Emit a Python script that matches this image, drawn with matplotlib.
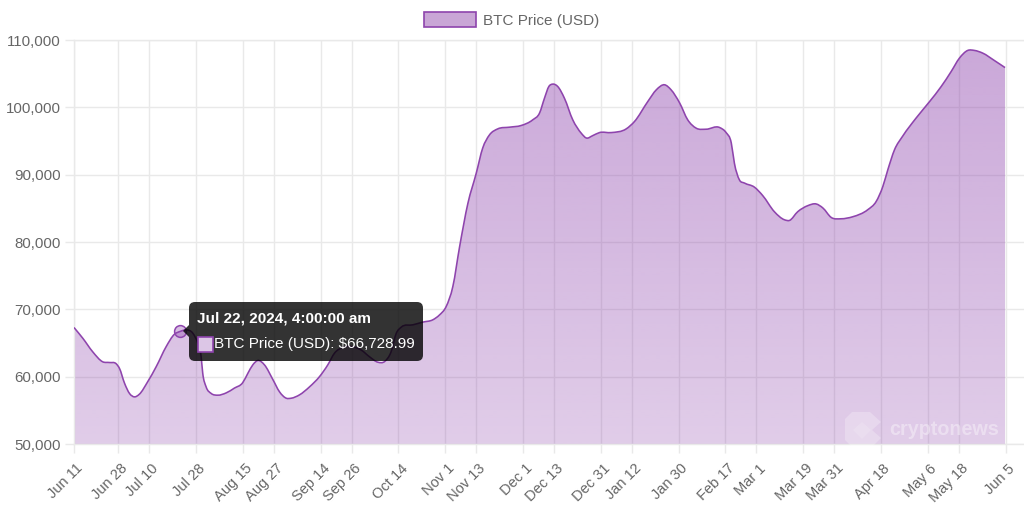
#!/usr/bin/env python3
"""
BTC price chart with tooltip, one year from Jun 2024
"""

import matplotlib
matplotlib.use("Agg")
import matplotlib.pyplot as plt
import matplotlib.dates as mdates
import numpy as np
import pandas as pd
from matplotlib.patches import FancyBboxPatch, Patch, PathPatch, Polygon, Rectangle
from matplotlib.path import Path
from matplotlib.ticker import FuncFormatter
from matplotlib.transforms import Affine2D, ScaledTranslation

# Values
start_date = "2024-06-11"
days = [0, 3.4, 7.2, 11.1, 13.7, 16.3, 17.5, 19.5, 21.4, 23.3, 25.2, 28.4, 31.7, 35.5, 38.7, 41,
        43.2, 45.8, 47.7, 49, 49.6, 50.9, 52.9, 55.4, 58.7, 61.8, 65, 67, 68.9, 70.8, 73.4, 76.6,
        79.2, 81.8, 83.7, 86.9, 90.8, 94.6, 97.8, 100.4, 103.6, 107.4, 110.7, 113.9, 117.1, 119.7,
        122.2, 124.2, 126.1, 130.6, 134.4, 138.3, 140.8, 143.4, 146, 148.6, 151.8, 155, 157.5,
        160.1, 163.3, 167.8, 172.3, 176.8, 179.4, 181.3, 183, 184.5, 186.4, 189, 192.2, 195.5,
        197.4, 199.9, 202.5, 207, 212.8, 216, 221.1, 224.4, 227.6, 230.1, 233.4, 236.5, 239.8,
        243.6, 248.8, 251.3, 253.3, 254.5, 256.4, 258.4, 262.2, 265.4, 269.9, 273.8, 275.7, 278.9,
        282.8, 286, 288.6, 291.8, 295.6, 300.1, 305.9, 309.1, 311.7, 313.6, 316.2, 319.4, 324.5,
        329.7, 334.2, 338, 341.2, 344.4, 347, 350.2, 354.7, 358.8]
prices = [67300, 65700, 63700, 62200, 62100, 61900, 61250, 59000, 57500, 57000, 57400, 59250, 61500,
          64450, 66300, 66729, 66950, 66450, 64950, 62950, 60550, 58500, 57500, 57250, 57600, 58300,
          59100, 60500, 61750, 62400, 61750, 59600, 57750, 56800, 56800, 57300, 58500, 60000, 61750,
          63500, 64350, 64450, 63950, 62950, 62150, 62250, 63700, 66450, 67350, 67700, 68100, 68450,
          69150, 70400, 73400, 79300, 85750, 90200, 93950, 95900, 96800, 97050, 97300, 98150, 99150,
          101350, 103100, 103450, 103100, 101350, 98150, 96150, 95450, 95800, 96250, 96250, 96800,
          97900, 100850, 102600, 103350, 102600, 100650, 98150, 96900, 96750, 97000, 96250, 94700,
          91700, 89250, 88750, 88150, 86900, 84500, 83300, 83200, 84500, 85400, 85650, 85050, 83650,
          83450, 83750, 84800, 86000, 88250, 90700, 93700, 95750, 98400, 100850, 103100, 105300,
          107300, 108450, 108450, 108050, 106950, 105900]

tick_dates = ["2024-06-11", "2024-06-28", "2024-07-10", "2024-07-28", "2024-08-15", "2024-08-27",
              "2024-09-14", "2024-09-26", "2024-10-14", "2024-11-01", "2024-11-13", "2024-12-01",
              "2024-12-13", "2024-12-31", "2025-01-12", "2025-01-30", "2025-02-17", "2025-03-01",
              "2025-03-19", "2025-03-31", "2025-04-18", "2025-05-06", "2025-05-18", "2025-06-05"]
tick_labels = ["Jun 11", "Jun 28", "Jul 10", "Jul 28", "Aug 15", "Aug 27", "Sep 14", "Sep 26",
               "Oct 14", "Nov 1", "Nov 13", "Dec 1", "Dec 13", "Dec 31", "Jan 12", "Jan 30",
               "Feb 17", "Mar 1", "Mar 19", "Mar 31", "Apr 18", "May 6", "May 18", "Jun 5"]
y_ticks = [50000, 60000, 70000, 80000, 90000, 100000, 110000]

series_name = "BTC Price (USD)"
tooltip_date = "2024-07-22"
tooltip_price = 66728.99
tooltip_title = "Jul 22, 2024, 4:00:00 am"
tooltip_body = "BTC Price (USD): $66,728.99"

LINE = "#8E44AD"
GRID = "#e9e9e9"
TEXT = "#666666"
W, H = 1024, 511


def curve_path(xs, ys, baseline=None):
    """Bezier path through the points, closed down to baseline if given"""
    xs = np.asarray(xs, dtype=float)
    ys = np.asarray(ys, dtype=float)
    slopes = np.gradient(ys, xs)
    verts = [(xs[0], ys[0])]
    codes = [Path.MOVETO]
    for i in range(len(xs) - 1):
        h = (xs[i + 1] - xs[i]) / 3
        verts += [(xs[i] + h, ys[i] + slopes[i] * h),
                  (xs[i + 1] - h, ys[i + 1] - slopes[i + 1] * h),
                  (xs[i + 1], ys[i + 1])]
        codes += [Path.CURVE4] * 3
    if baseline is not None:
        verts += [(xs[-1], baseline), (xs[0], baseline), (xs[0], ys[0])]
        codes += [Path.LINETO, Path.LINETO, Path.CLOSEPOLY]
    return Path(verts, codes)


plt.rcParams["font.family"] = ["Liberation Sans", "DejaVu Sans"]

fig = plt.figure(figsize=(W / 100, H / 100), dpi=100, facecolor="white")
ax = fig.add_axes([74.0 / W, (H - 444) / H, (W - 74.0) / W, 404 / H])
px = Affine2D().scale(1, -1).translate(0, H)  # overlay coordinates, origin top left

x = mdates.date2num(pd.Timestamp(start_date) + pd.to_timedelta(days, unit="D"))
x0 = x[0]
x1 = x0 + 366.1

# Gradient fill clipped to the area under the curve
grad = np.zeros((256, 1, 4))
grad[..., 0:3] = matplotlib.colors.to_rgb(LINE)
grad[..., 3] = np.linspace(0.47, 0.27, 256)[:, None]
im = ax.imshow(grad, extent=[x0, x1, y_ticks[0], y_ticks[-1]], origin="upper", aspect="auto",
               zorder=2, interpolation="bilinear")
im.set_clip_path(curve_path(x, prices, baseline=y_ticks[0]), transform=ax.transData)

ax.add_patch(PathPatch(curve_path(x, prices), fc="none", ec=LINE, lw=1.15, zorder=3))

# Hover point
ax.plot(mdates.date2num(pd.Timestamp(tooltip_date)), tooltip_price, "o", ms=8.5, mfc=(0.557, 0.267, 0.678, 0.35),
        mec=LINE, mew=1.1, zorder=4)

ax.set_xlim(x0, x1)
ax.set_ylim(y_ticks[0], y_ticks[-1])
ax.set_xticks(mdates.date2num(pd.to_datetime(tick_dates)))
ax.set_xticklabels(tick_labels, rotation=45, ha="right", rotation_mode="anchor")
ax.set_yticks(y_ticks)
ax.yaxis.set_major_formatter(FuncFormatter(lambda v, _: f"{int(v):,}"))
ax.tick_params(axis="both", length=6.5, width=1.0, color=GRID, labelcolor=TEXT, labelsize=10.8)
ax.tick_params(axis="y", pad=3)
ax.tick_params(axis="x", pad=6, labelsize=10.5)
offset = ScaledTranslation(2 / 100, 0, fig.dpi_scale_trans)
for label in ax.get_xticklabels():
    label.set_transform(label.get_transform() + offset)
ax.grid(True, color=GRID, lw=1.0)
ax.set_axisbelow(True)
for side in ["left", "bottom", "top"]:
    ax.spines[side].set_color(GRID)
    ax.spines[side].set_linewidth(1.0)
ax.spines["right"].set_visible(False)

# Legend
fig.legend(handles=[Patch(facecolor="#c9a6d6", edgecolor=LINE, lw=1.2, label=series_name)],
           loc="center", bbox_to_anchor=(511.5 / W, (H - 20) / H), frameon=False, fontsize=11,
           labelcolor=TEXT, handlelength=3.4, handleheight=1.05, handletextpad=0.5,
           borderpad=0, borderaxespad=0)

# Watermark
logo_outer = [(852, 412), (870, 412), (881, 422), (872, 430), (881, 438), (872, 447), (852, 447),
              (845, 440), (845, 419)]
logo_inner = [(862, 422), (871, 430), (862, 439), (853, 430)]
fig.add_artist(Polygon(logo_outer, closed=True, transform=px, fc=(1, 1, 1, 0.25), ec="none", zorder=5))
fig.add_artist(Polygon(logo_inner, closed=True, transform=px, fc=(1, 1, 1, 0.15), ec="none", zorder=5))
fig.text(889, 429, "cryptonews", transform=px, color=(1, 1, 1, 0.38), fontsize=14.2, fontweight="bold",
         ha="left", va="center", zorder=5)

# Tooltip
fig.add_artist(Polygon([(183, 331), (189, 325), (189, 337)], closed=True, transform=px,
                       fc=(0, 0, 0, 0.8), ec="none", zorder=6))
fig.add_artist(FancyBboxPatch((194, 307), 224, 49, boxstyle="round,pad=5,rounding_size=6", transform=px,
                              fc=(0, 0, 0, 0.8), ec="none", zorder=6))
fig.add_artist(Rectangle((197.5, 336.5), 15, 15, transform=px, fc="#dcc6e6", ec=LINE, lw=1.2, zorder=7))
fig.text(197, 318, tooltip_title, transform=px, color="white", fontsize=11, fontweight="bold",
         ha="left", va="center", zorder=7)
fig.text(214, 343.5, tooltip_body, transform=px, color="white", fontsize=11, ha="left", va="center", zorder=7)

fig.savefig("out.png", dpi=100)
